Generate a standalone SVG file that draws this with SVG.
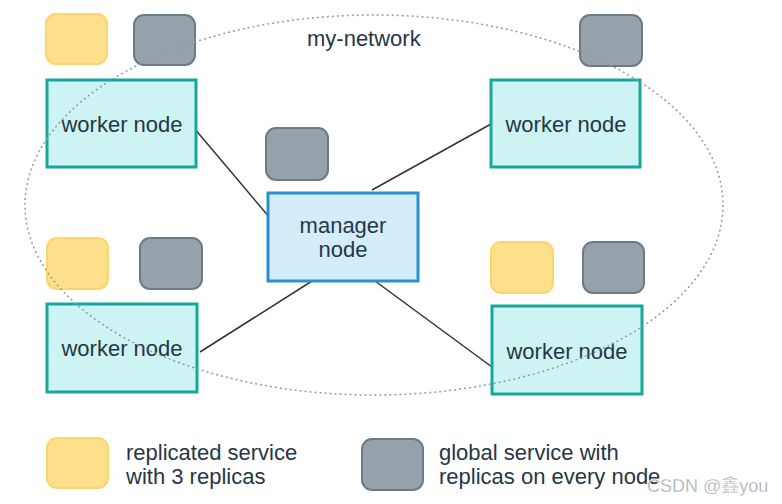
<svg xmlns="http://www.w3.org/2000/svg" width="782" height="504" viewBox="0 0 782 504">
<style>
.y{fill:#fddf8c;stroke:#fdd56c;stroke-width:2}
.g{fill:#95a1ab;stroke:#6b7c89;stroke-width:2}
.w{fill:#cdf3f2;stroke:#17a79b;stroke-width:3}
.m{fill:#d4edfb;stroke:#2a90d0;stroke-width:3}
.t{font-family:"Liberation Sans",Arial,sans-serif;font-size:22px;fill:#253746}
.c{text-anchor:middle}
.l{stroke:#333;stroke-width:1.5;fill:none}
</style>
<rect width="782" height="504" fill="#fff"/>
<g id="connectors">
<line class="l" x1="194" y1="128" x2="270" y2="218"/>
<line class="l" x1="372" y1="190" x2="491" y2="124"/>
<line class="l" x1="312" y1="281" x2="200" y2="352"/>
<line class="l" x1="375" y1="281" x2="492" y2="367"/>
</g>
<g id="tl">
<rect class="y" x="46" y="14" width="61" height="50" rx="10"/>
<rect class="g" x="134" y="15" width="61" height="50" rx="10"/>
<rect class="w" x="47" y="80" width="149" height="87"/>
<text class="t c" x="122" y="132">worker node</text>
</g>
<g id="tr">
<rect class="g" x="580" y="15" width="62" height="51" rx="10"/>
<rect class="w" x="491" y="80" width="149" height="87"/>
<text class="t c" x="566" y="132">worker node</text>
</g>
<g id="manager">
<rect class="g" x="266" y="128" width="62" height="52" rx="10"/>
<rect class="m" x="268" y="193" width="150" height="88"/>
<text class="t c" x="343" y="233">manager</text>
<text class="t c" x="343" y="257">node</text>
</g>
<g id="bl">
<rect class="y" x="47" y="238" width="61" height="51" rx="10"/>
<rect class="g" x="140" y="238" width="62" height="51" rx="10"/>
<rect class="w" x="47" y="304" width="150" height="88"/>
<text class="t c" x="122" y="356">worker node</text>
</g>
<g id="br">
<rect class="y" x="491" y="242" width="62" height="51" rx="10"/>
<rect class="g" x="583" y="242" width="61" height="51" rx="10"/>
<rect class="w" x="492" y="306" width="150" height="88"/>
<text class="t c" x="567" y="359">worker node</text>
</g>
<g id="network">
<ellipse cx="374" cy="205" rx="349" ry="190" fill="none" stroke="#8f9ba6" stroke-width="1.5" stroke-dasharray="2 3"/>
<text class="t" x="307" y="46">my-network</text>
</g>
<g id="legend">
<rect class="y" x="47" y="438" width="61" height="50" rx="10"/>
<text class="t" x="126" y="460">replicated service</text>
<text class="t" x="126" y="484">with 3 replicas</text>
<rect class="g" x="362" y="439" width="61" height="51" rx="10"/>
<text class="t" x="439" y="460">global service with</text>
<text class="t" x="439" y="484">replicas on every node</text>
</g>
<text x="647" y="492" font-family="'Liberation Sans','Noto Sans CJK SC',sans-serif" font-size="18" fill="#a9a9a9" stroke="#fff" stroke-width="0.3">CSDN @鑫you</text>
</svg>
